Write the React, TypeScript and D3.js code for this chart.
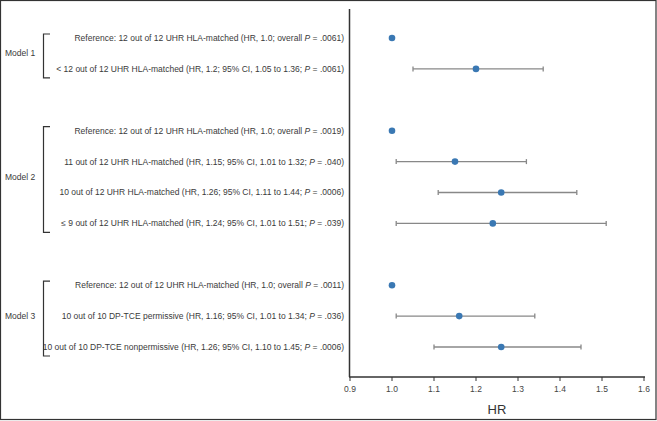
import React from "react";
import * as d3 from "d3";

const rowIndex = [0, 1, 3, 4, 5, 6, 8, 9, 10];
const labelPrefix = [
  "Reference: 12 out of 12 UHR HLA-matched (HR, 1.0; overall",
  "< 12 out of 12 UHR HLA-matched (HR, 1.2; 95% CI, 1.05 to 1.36;",
  "Reference: 12 out of 12 UHR HLA-matched (HR, 1.0; overall",
  "11 out of 12 UHR HLA-matched (HR, 1.15; 95% CI, 1.01 to 1.32;",
  "10 out of 12 UHR HLA-matched (HR, 1.26; 95% CI, 1.11 to 1.44;",
  "≤ 9 out of 12 UHR HLA-matched (HR, 1.24; 95% CI, 1.01 to 1.51;",
  "Reference: 12 out of 12 UHR HLA-matched (HR, 1.0; overall",
  "10 out of 10 DP-TCE permissive (HR, 1.16; 95% CI, 1.01 to 1.34;",
  "10 out of 10 DP-TCE nonpermissive (HR, 1.26; 95% CI, 1.10 to 1.45;",
];
const pValues = [".0061", ".0061", ".0019", ".040", ".0006", ".039", ".0011", ".036", ".0006"];
const hr = [1.0, 1.2, 1.0, 1.15, 1.26, 1.24, 1.0, 1.16, 1.26];
const ciLow: (number | null)[] = [null, 1.05, null, 1.01, 1.11, 1.01, null, 1.01, 1.1];
const ciHigh: (number | null)[] = [null, 1.36, null, 1.32, 1.44, 1.51, null, 1.34, 1.45];
const models = ["Model 1", "Model 2", "Model 3"];
const modelFirstRow = [0, 3, 8];
const modelLastRow = [1, 6, 10];
const xTicks = [0.9, 1.0, 1.1, 1.2, 1.3, 1.4, 1.5, 1.6];

const W = 657;
const H = 421;

export default function App() {
  const x = d3.scaleLinear().domain([0.9, 1.6]).range([350, 644]);
  const y = d3.scaleLinear().domain([0, 10]).range([38, 347]);
  const axisTop = 9;
  const axisBottom = 377;
  const font = "'Liberation Sans', Arial, sans-serif";
  const textColor = "#3a3a3a";

  return (
    <div style={{ position: "fixed", left: 0, top: 0 }}>
      <svg width={W} height={H} style={{ display: "block" }} fontFamily={font}>
        <rect x={0} y={0} width={W} height={H} fill="#fff" />
        <rect x={0.5} y={0.5} width={W - 1.5} height={H - 2} fill="none" stroke="#333" strokeWidth={1.2} />

        {/* model brackets */}
        {models.map((m, i) => {
          const y0 = y(modelFirstRow[i]) - 4;
          const y1 = y(modelLastRow[i]) + 9;
          const mid = (y(modelFirstRow[i]) + y(modelLastRow[i])) / 2;
          return (
            <g key={m}>
              <path
                d={`M50,${y0}H43.5V${y1}H50`}
                fill="none"
                stroke="#333"
                strokeWidth={1.2}
              />
              <text x={5} y={mid} dy="0.35em" fontSize={8.5} fill={textColor}>
                {m}
              </text>
            </g>
          );
        })}

        {/* row labels */}
        {rowIndex.map((r, i) => (
          <text
            key={"l" + i}
            x={344}
            y={y(r)}
            dy="0.35em"
            textAnchor="end"
            fontSize={8.5}
            fill={textColor}
          >
            {labelPrefix[i] + " "}
            <tspan fontStyle="italic">P</tspan>
            {" = " + pValues[i] + ")"}
          </text>
        ))}

        {/* axes */}
        <line x1={349.5} x2={349.5} y1={axisTop} y2={axisBottom} stroke="#333" strokeWidth={1.5} />
        <line x1={349} x2={x(1.6) + 1} y1={axisBottom} y2={axisBottom} stroke="#333" strokeWidth={1.5} />
        {xTicks.map((t) => (
          <g key={t}>
            <line x1={x(t)} x2={x(t)} y1={axisBottom} y2={axisBottom + 4} stroke="#333" strokeWidth={1} />
            <text x={x(t)} y={axisBottom + 15} textAnchor="middle" fontSize={8.5} fill="#444">
              {t.toFixed(1)}
            </text>
          </g>
        ))}
        <text x={(x(0.9) + x(1.6)) / 2} y={414} textAnchor="middle" fontSize={13} fill="#333">
          HR
        </text>

        {/* error bars and points */}
        {rowIndex.map((r, i) => {
          const yy = y(r);
          const lo = ciLow[i];
          const hi = ciHigh[i];
          return (
            <g key={"p" + i}>
              {lo !== null && hi !== null && (
                <g stroke="#888" strokeWidth={1.3}>
                  <line x1={x(lo)} x2={x(hi)} y1={yy} y2={yy} />
                  <line x1={x(lo)} x2={x(lo)} y1={yy - 2.5} y2={yy + 2.5} />
                  <line x1={x(hi)} x2={x(hi)} y1={yy - 2.5} y2={yy + 2.5} />
                </g>
              )}
              <circle cx={x(hr[i])} cy={yy} r={3.3} fill="#3a78b3" />
            </g>
          );
        })}
      </svg>
    </div>
  );
}
